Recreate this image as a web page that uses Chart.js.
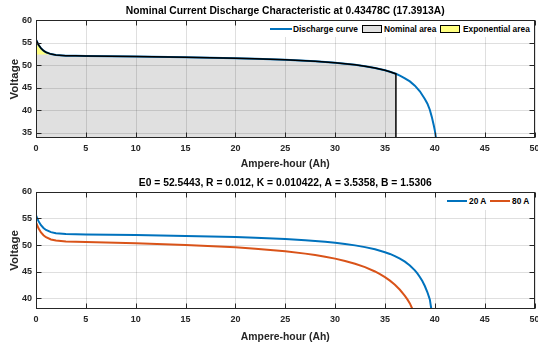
<!DOCTYPE html>
<html>
<head>
<meta charset="utf-8">
<script src="https://cdn.jsdelivr.net/npm/chart.js@4.4.0/dist/chart.umd.min.js"></script>
<style>
  body { margin: 0; background: #fff; width: 538px; height: 345px; overflow: hidden; position: relative; }
  canvas { position: absolute; left: 0; }
  #top { top: 0; }
  #low { top: 170px; }
  .lg { position: absolute; background: #fff; }
  .lg span { position: absolute; font: bold 8.35px "Liberation Sans", Arial, sans-serif; color: #000; white-space: nowrap; line-height: 10px; }
  .lg i { position: absolute; display: block; }
</style>
</head>
<body>
<canvas id="top" width="538" height="170"></canvas>
<canvas id="low" width="538" height="175"></canvas>

<div class="lg" style="left:266px;top:21px;width:267px;height:16px">
  <i style="left:4px;top:7px;width:22px;height:2px;background:#0072BD"></i>
  <span style="left:27px;top:3px">Discharge curve</span>
  <i style="left:96px;top:4px;width:20px;height:8px;background:#e0e0e0;border:1px solid #000;box-sizing:border-box"></i>
  <span style="left:118px;top:3px">Nominal area</span>
  <i style="left:174px;top:4px;width:20px;height:8px;background:#ffff80;border:1px solid #000;box-sizing:border-box"></i>
  <span style="left:197px;top:3px">Exponential area</span>
</div>
<div class="lg" style="left:443px;top:193px;width:90px;height:17px">
  <i style="left:4px;top:7px;width:20px;height:2px;background:#0072BD"></i>
  <span style="left:26px;top:3px">20 A</span>
  <i style="left:47px;top:7px;width:20px;height:2px;background:#D95319"></i>
  <span style="left:69px;top:3px">80 A</span>
</div>

<script>
// tick labels
const xTicks = [0, 5, 10, 15, 20, 25, 30, 35, 40, 45, 50];
const yTicksTop = [35, 40, 45, 50, 55, 60];
const yTicksLow = [40, 45, 50, 55, 60];

// nominal discharge curve (0.43478C)
const ahTop = [0, 0.25, 0.5, 0.75, 1, 1.5, 2, 3, 4, 5, 10, 15, 20, 22, 25, 27, 28, 29, 30, 31, 32, 33, 34, 35, 35.5, 36, 36.1,
               36.5, 37, 37.5, 38, 38.5, 39, 39.25, 39.5, 39.7, 39.9, 40, 40.12];
const vTop = [55.7, 54.56, 53.79, 53.26, 52.9, 52.49, 52.29, 52.14, 52.1, 52.07, 51.96, 51.81, 51.58, 51.46, 51.23, 51.01, 50.89, 50.74, 50.56, 50.35, 50.1, 49.79, 49.39, 48.88, 48.55, 48.18, 48.1,
              47.7, 47.1, 46.4, 45.45, 44.2, 42.5, 41.5, 40.1, 38.5, 36.6, 35.5, 33.8];
const qNom = 36.1;   // end of nominal area
const qExp = 1.5;    // end of exponential area
const vExp = 52.4;

// 20 A and 80 A curves
const ah20 = [0, 0.25, 0.5, 0.75, 1, 1.5, 2, 3, 4, 5, 10, 15, 20, 22, 25, 27, 28, 29, 30, 31, 32, 33, 34, 35, 35.5, 36, 36.5, 37, 37.5, 38, 38.25, 38.5, 38.75, 39, 39.25, 39.5, 39.65];
const v20 = [55.6, 54.5, 53.73, 53.21, 52.85, 52.43, 52.23, 52.08, 52.03, 52.01, 51.89, 51.73, 51.5, 51.37, 51.13, 50.91, 50.77, 50.61, 50.43, 50.21, 49.95, 49.62, 49.21, 48.67, 48.34, 47.94, 47.47, 46.89, 46.17, 45.25, 44.68, 44.02, 43.25, 42.32, 41.19, 39.79, 38.0];
const ah80 = [0, 0.25, 0.5, 0.75, 1, 1.5, 2, 3, 4, 5, 10, 15, 20, 22, 25, 27, 28, 29, 30, 31, 32, 33, 34, 34.5, 35, 35.5, 36, 36.5, 37, 37.25, 37.5, 37.75];
const v80 = [54.29, 53.15, 52.38, 51.85, 51.48, 51.06, 50.85, 50.69, 50.62, 50.58, 50.35, 50.03, 49.58, 49.33, 48.84, 48.4, 48.13, 47.83, 47.46, 47.03, 46.51, 45.87, 45.05, 44.56, 43.99, 43.33, 42.55, 41.61, 40.47, 39.8, 39.05, 38.0];

const yMinTop = 33.8, yMinLow = 38;

const pts = (xs, ys) => xs.map((x, i) => ({ x: x, y: ys[i] }));
const curveTop = pts(ahTop, vTop);
const nomPart = curveTop.filter(p => p.x <= qNom);
const nomShape = nomPart.concat([{ x: qNom, y: yMinTop }]);
const expPart = curveTop.filter(p => p.x <= qExp);

Chart.defaults.font.family = '"Liberation Sans", Arial, sans-serif';
Chart.defaults.color = '#262626';

function drawGrid(chart) {
    const { ctx, chartArea: a, scales: { x, y } } = chart;
    ctx.save();
    ctx.strokeStyle = 'rgba(38,38,38,0.15)';
    ctx.lineWidth = 1;
    ctx.beginPath();
    x.ticks.forEach(t => {
        const px = Math.round(x.getPixelForValue(t.value)) + 0.5;
        ctx.moveTo(px, a.top); ctx.lineTo(px, a.bottom);
    });
    y.ticks.forEach(t => {
        const py = Math.round(y.getPixelForValue(t.value)) + 0.5;
        ctx.moveTo(a.left, py); ctx.lineTo(a.right, py);
    });
    ctx.stroke();
    ctx.restore();
}

// grid over the fills, box and inward ticks like MATLAB
const framePlugin = {
    id: 'frame',
    beforeDatasetsDraw(chart, args, opts) {
        if (opts.gridAfter < 0) drawGrid(chart);
    },
    afterDatasetDraw(chart, args, opts) {
        if (args.index === opts.gridAfter) drawGrid(chart);
    },
    afterDraw(chart) {
        const { ctx, chartArea: a, scales: { x, y } } = chart;
        const L = Math.round(a.left) + 0.5, R = Math.round(a.right) - 0.5;
        const T = Math.round(a.top) + 0.5, B = Math.round(a.bottom) - 0.5;
        ctx.save();
        ctx.strokeStyle = '#262626';
        ctx.lineWidth = 1;
        ctx.strokeRect(L, T, R - L, B - T);
        ctx.beginPath();
        x.ticks.forEach(t => {
            const px = Math.round(x.getPixelForValue(t.value)) + 0.5;
            ctx.moveTo(px, B); ctx.lineTo(px, B - 5);
            ctx.moveTo(px, T); ctx.lineTo(px, T + 5);
        });
        y.ticks.forEach(t => {
            const py = Math.round(y.getPixelForValue(t.value)) + 0.5;
            ctx.moveTo(L, py); ctx.lineTo(L + 5, py);
            ctx.moveTo(R, py); ctx.lineTo(R - 5, py);
        });
        ctx.stroke();
        ctx.restore();
    }
};

function axes(yMin, yTicks, xHeight, xTitlePad) {
    return {
        x: {
            type: 'linear', min: 0, max: 50,
            afterBuildTicks: s => { s.ticks = xTicks.map(v => ({ value: v })); },
            afterFit: s => { s.height = xHeight; s.paddingLeft = 0; s.paddingRight = 0; },
            grid: { display: false, drawTicks: false },
            border: { display: false },
            ticks: { font: { size: 9, weight: 'bold' }, padding: 5, maxRotation: 0 },
            title: { display: true, text: 'Ampere-hour (Ah)', font: { size: 10.4, weight: 'bold' }, padding: { top: 0, bottom: xTitlePad } }
        },
        y: {
            type: 'linear', min: yMin, max: 60,
            afterBuildTicks: s => { s.ticks = yTicks.map(v => ({ value: v })); },
            afterFit: s => { s.width = 36; s.paddingTop = 0; s.paddingBottom = 0; },
            grid: { display: false, drawTicks: false },
            border: { display: false },
            ticks: { font: { size: 9, weight: 'bold' }, padding: 4 },
            title: { display: true, text: 'Voltage', font: { size: 11.5, weight: 'bold' }, padding: { top: 8, bottom: 0 } }
        }
    };
}

const common = {
    responsive: false,
    animation: false,
    events: [],
    layout: { padding: { left: 0, right: 3.5, top: 0, bottom: 0 } }
};

new Chart(document.getElementById('top'), {
    type: 'scatter',
    data: {
        datasets: [
            { data: nomShape, showLine: true, fill: 'start', backgroundColor: '#e0e0e0', borderWidth: 0, pointRadius: 0, order: 4 },
            { data: expPart, showLine: true, fill: { value: vExp }, backgroundColor: '#ffff80', borderWidth: 0, pointRadius: 0, order: 3 },
            { data: curveTop, showLine: true, fill: false, borderColor: '#0072BD', borderWidth: 2, pointRadius: 0, order: 2 },
            { data: nomShape, showLine: true, fill: false, borderColor: '#000', borderWidth: 1.5, pointRadius: 0, order: 1 }
        ]
    },
    options: Object.assign({}, common, {
        plugins: {
            legend: { display: false },
            tooltip: { enabled: false },
            title: {
                display: true, fullSize: false, color: '#000',
                text: 'Nominal Current Discharge Characteristic at 0.43478C (17.3913A)',
                font: { size: 10.3, weight: 'bold' }, padding: { top: 4.5, bottom: 3.5 }
            },
            frame: { gridAfter: 0 }
        },
        scales: axes(yMinTop, yTicksTop, 32, 0)
    }),
    plugins: [framePlugin]
});

new Chart(document.getElementById('low'), {
    type: 'scatter',
    data: {
        datasets: [
            { label: '20 A', data: pts(ah20, v20), showLine: true, fill: false, borderColor: '#0072BD', borderWidth: 2, pointRadius: 0 },
            { label: '80 A', data: pts(ah80, v80), showLine: true, fill: false, borderColor: '#D95319', borderWidth: 2, pointRadius: 0 }
        ]
    },
    options: Object.assign({}, common, {
        plugins: {
            legend: { display: false },
            tooltip: { enabled: false },
            title: {
                display: true, fullSize: false, color: '#000',
                text: 'E0 = 52.5443, R = 0.012, K = 0.010422, A = 3.5358, B = 1.5306',
                font: { size: 10.3, weight: 'bold' }, padding: { top: 6.5, bottom: 3 }
            },
            frame: { gridAfter: -1 }
        },
        scales: axes(yMinLow, yTicksLow, 36, 1.7)
    }),
    plugins: [framePlugin]
});
</script>
</body>
</html>
